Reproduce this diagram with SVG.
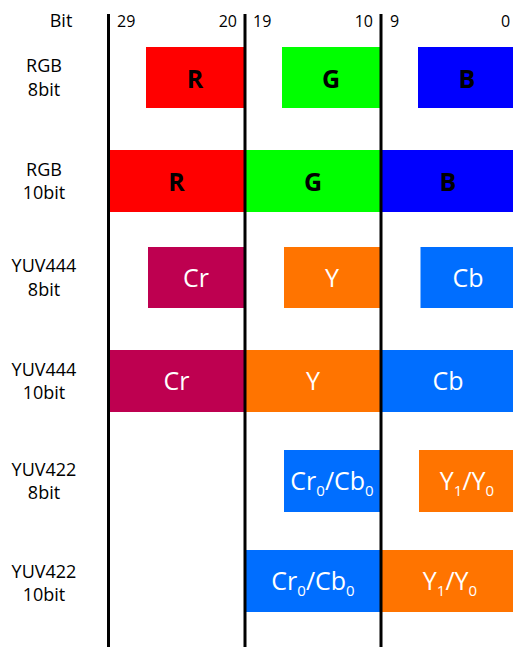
<svg xmlns="http://www.w3.org/2000/svg" width="513" height="647" viewBox="0 0 513 647">
<style>
text{font-family:"Open Sans","Noto Sans","Liberation Sans",sans-serif}
.lbl{font-size:18px;fill:#000;text-anchor:middle}
.num{font-size:16px;fill:#000}
.bk{font-size:25px;font-weight:bold;fill:#000;text-anchor:middle}
.wt{font-size:25px;fill:#fff;text-anchor:middle}
.sub{font-size:15px}
.red{fill:#FF0000}.grn{fill:#00FF00}.blu{fill:#0000FF}
.cr{fill:#BE0050}.yy{fill:#FF7400}.cb{fill:#006EFF}
.vl{stroke:#000;stroke-width:3}
</style>
<rect width="513" height="647" fill="#fff"/>
<g id="header">
<text class="lbl" x="61" y="27">Bit</text>
<text class="num" x="117" y="27">29</text>
<text class="num" x="237" y="27" text-anchor="end">20</text>
<text class="num" x="253" y="27">19</text>
<text class="num" x="373" y="27" text-anchor="end">10</text>
<text class="num" x="390" y="27">9</text>
<text class="num" x="501" y="27">0</text>
</g>
<g id="labels">
<text class="lbl" x="44" y="72">RGB</text><text class="lbl" x="44" y="95.5">8bit</text>
<text class="lbl" x="44" y="175.5">RGB</text><text class="lbl" x="44" y="199">10bit</text>
<text class="lbl" x="44" y="272">YUV444</text><text class="lbl" x="44" y="295.5">8bit</text>
<text class="lbl" x="44" y="375.5">YUV444</text><text class="lbl" x="44" y="399">10bit</text>
<text class="lbl" x="44" y="475.5">YUV422</text><text class="lbl" x="44" y="499">8bit</text>
<text class="lbl" x="44" y="577.5">YUV422</text><text class="lbl" x="44" y="601">10bit</text>
</g>
<g id="rgb8">
<rect class="red" x="146" y="47" width="98" height="61"/><text class="bk" x="195" y="87.5">R</text>
<rect class="grn" x="282" y="47" width="98" height="61"/><text class="bk" x="331" y="87.5">G</text>
<rect class="blu" x="418" y="47" width="95" height="61"/><text class="bk" x="467" y="87.5">B</text>
</g>
<g id="rgb10">
<rect class="red" x="109" y="150" width="136" height="62"/><text class="bk" x="176.5" y="191">R</text>
<rect class="grn" x="245" y="150" width="136" height="62"/><text class="bk" x="313" y="191">G</text>
<rect class="blu" x="381" y="150" width="132" height="62"/><text class="bk" x="448" y="191">B</text>
</g>
<g id="yuv444_8">
<rect class="cr" x="148" y="247" width="96" height="61"/><text class="wt" x="196" y="286.5">Cr</text>
<rect class="yy" x="284" y="247" width="96" height="61"/><text class="wt" x="332" y="286.5">Y</text>
<rect class="cb" x="420.5" y="247" width="92.5" height="61"/><text class="wt" x="468" y="286.5">Cb</text>
</g>
<g id="yuv444_10">
<rect class="cr" x="109" y="350" width="136" height="62"/><text class="wt" x="176.5" y="390">Cr</text>
<rect class="yy" x="245" y="350" width="136" height="62"/><text class="wt" x="313" y="390">Y</text>
<rect class="cb" x="381" y="350" width="132" height="62"/><text class="wt" x="448" y="390">Cb</text>
</g>
<g id="yuv422_8">
<rect class="cb" x="284" y="450" width="96" height="62"/>
<text class="wt" x="332" y="489.5">Cr<tspan class="sub" dy="6">0</tspan><tspan dy="-6">/Cb</tspan><tspan class="sub" dy="6">0</tspan></text>
<rect class="yy" x="419" y="450" width="94" height="62"/>
<text class="wt" x="467" y="489.5">Y<tspan class="sub" dy="6">1</tspan><tspan dy="-6">/Y</tspan><tspan class="sub" dy="6">0</tspan></text>
</g>
<g id="yuv422_10">
<rect class="cb" x="245" y="550" width="136" height="62"/>
<text class="wt" x="313" y="589.5">Cr<tspan class="sub" dy="6">0</tspan><tspan dy="-6">/Cb</tspan><tspan class="sub" dy="6">0</tspan></text>
<rect class="yy" x="381" y="550" width="132" height="62"/>
<text class="wt" x="450" y="589.5">Y<tspan class="sub" dy="6">1</tspan><tspan dy="-6">/Y</tspan><tspan class="sub" dy="6">0</tspan></text>
</g>
<g id="connectors">
<line class="vl" x1="108.5" y1="14" x2="108.5" y2="647"/>
<line class="vl" x1="245" y1="14" x2="245" y2="647"/>
<line class="vl" x1="381" y1="14" x2="381" y2="647"/>
</g>
</svg>
